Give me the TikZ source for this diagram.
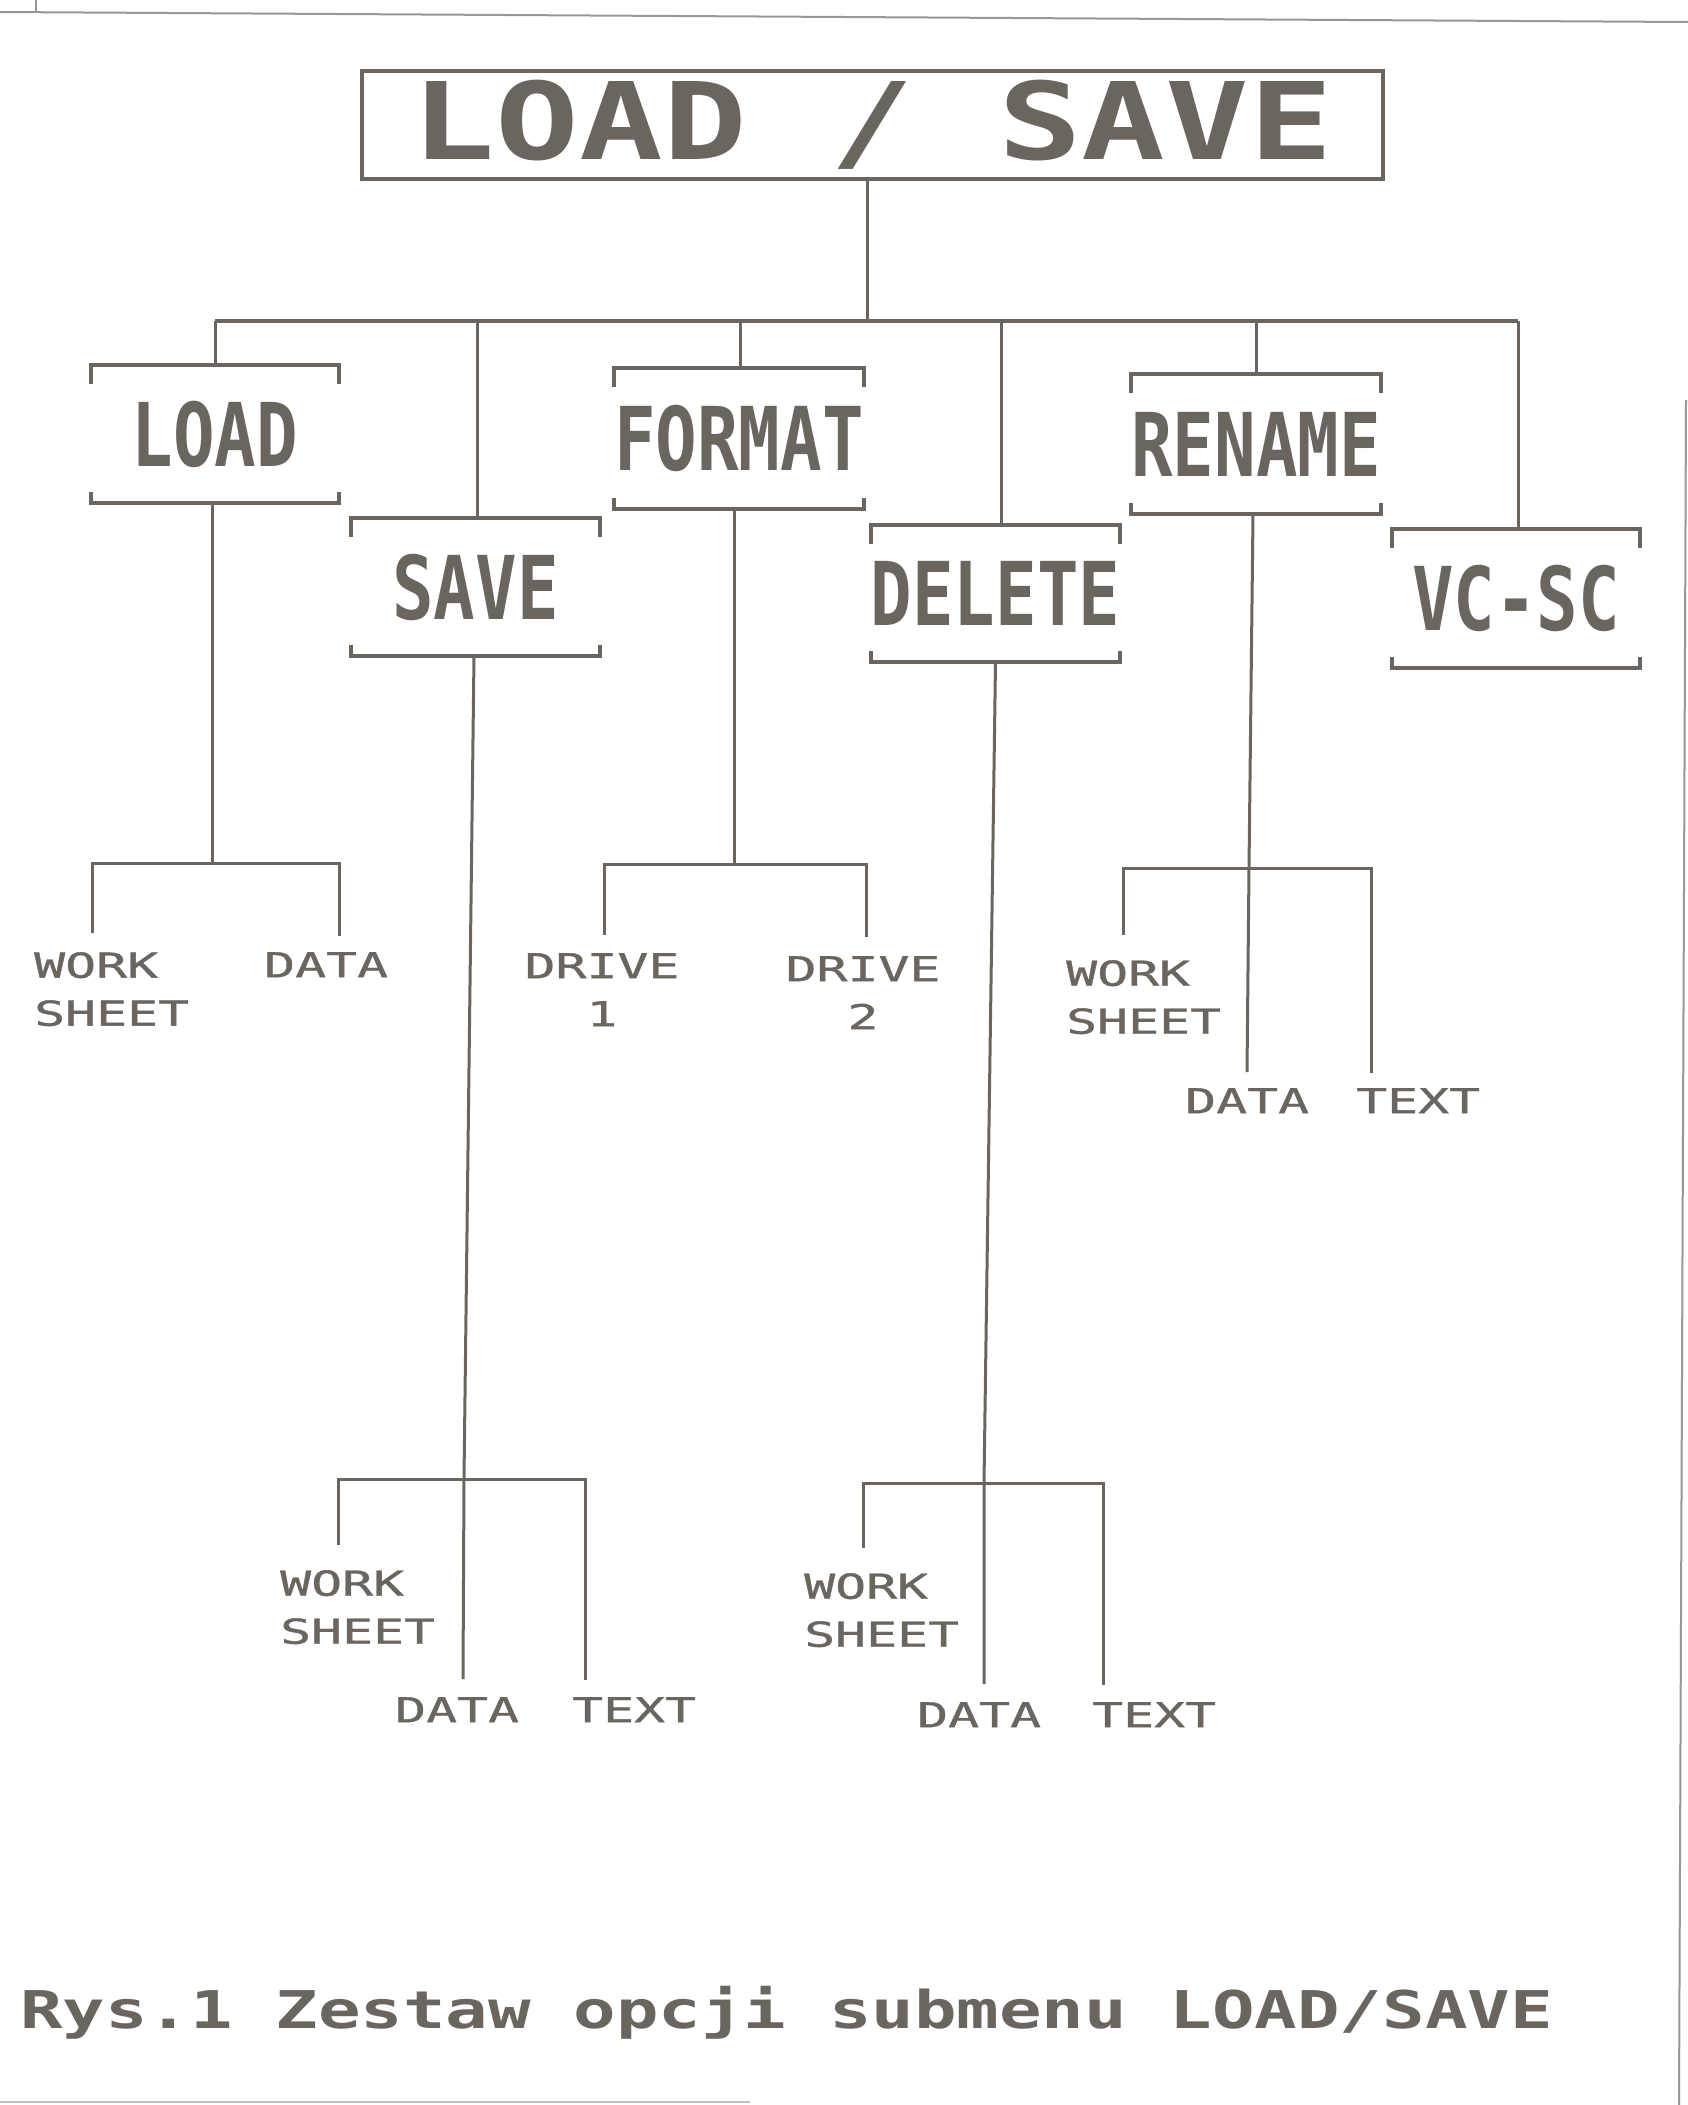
\documentclass[tikz,border=0pt]{standalone}
\usepackage{fontspec}
\usepackage{graphicx}
\newfontfamily\titlefnt{DejaVu Sans Mono}[FakeStretch=1.3]
\newfontfamily\menufnt{DejaVu Sans Mono}[FakeStretch=0.785]
\newfontfamily\labelfnt{DejaVu Sans Mono}[FakeStretch=1.5,FakeBold=1]
\newfontfamily\capfnt{DejaVu Sans Mono}[FakeStretch=1.36]
\definecolor{inkc}{RGB}{107,101,96}
\definecolor{edgec}{RGB}{155,150,150}
\newcommand\drawbrackets[1]{%
  \draw[brline] ([yshift=-19pt]#1.north west) -- (#1.north west) -- (#1.north east) -- ([yshift=-19pt]#1.north east);
  \draw[brline] ([yshift=11pt]#1.south west) -- (#1.south west) -- (#1.south east) -- ([yshift=11pt]#1.south east);}
\begin{document}
\begin{tikzpicture}[x=1pt,y=1pt,
  conn/.style={draw=inkc, line width=3pt},
  busline/.style={draw=inkc, line width=4pt},
  brline/.style={draw=inkc, line width=4pt},
  edge/.style={draw=edgec, line width=2pt},
  titlebox/.style={draw=inkc, line width=4.5pt, inner sep=0pt, text=inkc,
    font=\titlefnt\bfseries\fontsize{107}{110}\selectfont},
  menubox/.style={inner sep=0pt, text=inkc,
    font=\menufnt\bfseries\fontsize{88}{90}\selectfont},
  lbl/.style={inner sep=0pt, text=inkc, align=left, anchor=north west,
    font=\labelfnt\fontsize{34.3}{48}\selectfont},
  clbl/.style={lbl, align=center, anchor=north},
  captext/.style={inner sep=0pt, text=inkc, anchor=base west,
    font=\capfnt\bfseries\fontsize{52}{54}\selectfont}]
\useasboundingbox (0,0) rectangle (1688,-2105);
\fill[white] (0,0) rectangle (1688,-2105);

% scan edges
\coordinate (e1) at (0,-12);
\coordinate (e2) at (1688,-22);
\coordinate (e3) at (36,0);
\coordinate (e4) at (1686,-400);
\coordinate (e5) at (1679,-2105);
\coordinate (e6) at (0,-2102);
\coordinate (e7) at (750,-2102);
\draw[edge] (e1) -- (e2);
\draw[edge] (e3) -- (e3 |- e1);
\draw[edge] (e4) -- (e5);
\draw[edge, draw=edgec!60] (e6) -- (e7);

% title
\node[titlebox, minimum width=1021pt, minimum height=108pt] (title) at (872.5,-125) {LOAD / SAVE};

% level-1 nodes
\node[menubox, minimum width=248pt, minimum height=138pt] (load)   at (215,-434)    {LOAD};
\node[menubox, minimum width=249pt, minimum height=138pt] (save)   at (475.5,-587)  {SAVE};
\node[menubox, minimum width=246pt, minimum height=141pt] (format) at (739,-438.5)  {FORMAT};
\node[menubox, minimum width=243pt, minimum height=137pt] (delete) at (995.5,-593.5){DELETE};
\node[menubox, minimum width=246pt, minimum height=140pt] (rename) at (1256,-444)   {RENAME};
\node[menubox, minimum width=248pt, minimum height=139pt] (vcsc)   at (1516,-598.5) {VC-SC};
\drawbrackets{load}
\drawbrackets{save}
\drawbrackets{format}
\drawbrackets{delete}
\drawbrackets{rename}
\drawbrackets{vcsc}

% level-1 bus
\coordinate (b0) at (867,-321);
\coordinate (bl1) at (215,-321);
\coordinate (bl2) at (477,-321);
\coordinate (bl3) at (740,-321);
\coordinate (bl4) at (1001,-321);
\coordinate (bl5) at (1256,-321);
\coordinate (bl6) at (1518,-321);
\draw[conn] (title.south -| b0) -- (b0);
\draw[busline] (bl1) -- (bl6);
\draw[conn] (bl1) -- (bl1 |- load.north);
\draw[conn] (bl2) -- (bl2 |- save.north);
\draw[conn] (bl3) -- (bl3 |- format.north);
\draw[conn] (bl4) -- (bl4 |- delete.north);
\draw[conn] (bl5) -- (bl5 |- rename.north);
\draw[conn] (bl6) -- (bl6 |- vcsc.north);

% LOAD subtree
\coordinate (lb) at (212,-863);
\coordinate (lw) at (92,-933);
\coordinate (ld) at (339,-936);
\draw[conn] (load.south -| lb) -- (lb);
\draw[conn] (lw) -- (lw |- lb) -- (ld |- lb) -- (ld);
\node[lbl] (lws) at (34,-952) {WORK\\SHEET};
\node[lbl] (lda) at (264,-952) {DATA};

% FORMAT subtree
\coordinate (fb) at (734,-864);
\coordinate (fl) at (604,-935);
\coordinate (fr) at (866,-937);
\draw[conn] (format.south -| fb) -- (fb);
\draw[conn] (fl) -- (fl |- fb) -- (fr |- fb) -- (fr);
\node[clbl] (fd1) at (602,-953) {DRIVE\\1};
\node[clbl] (fd2) at (863,-956) {DRIVE\\2};

% SAVE subtree
\coordinate (sb) at (464,-1479);
\coordinate (sd) at (463,-1679);
\coordinate (sl) at (338,-1545);
\coordinate (sr) at (585,-1680);
\draw[conn] ([xshift=-1.5pt]save.south) -- (sb) -- (sd);
\draw[conn] (sl) -- (sl |- sb) -- (sr |- sb) -- (sr);
\node[lbl] (sws) at (280,-1570) {WORK\\SHEET};
\node[lbl] (sda) at (395,-1697) {DATA};
\node[lbl] (ste) at (572,-1697) {TEXT};

% DELETE subtree
\coordinate (db) at (984,-1483);
\coordinate (dd) at (984,-1684);
\coordinate (dl) at (863,-1548);
\coordinate (dr) at (1103,-1685);
\draw[conn] (delete.south) -- (db) -- (dd);
\draw[conn] (dl) -- (dl |- db) -- (dr |- db) -- (dr);
\node[lbl] (dws) at (804,-1573) {WORK\\SHEET};
\node[lbl] (dda) at (917,-1702) {DATA};
\node[lbl] (dte) at (1092,-1702) {TEXT};

% RENAME subtree
\coordinate (rb) at (1249,-868);
\coordinate (rd) at (1247,-1072);
\coordinate (rl) at (1123,-935);
\coordinate (rr) at (1371,-1073);
\draw[conn] ([xshift=-3pt]rename.south) -- (rb) -- (rd);
\draw[conn] (rl) -- (rl |- rb) -- (rr |- rb) -- (rr);
\node[lbl] (rws) at (1066,-960) {WORK\\SHEET};
\node[lbl] (rda) at (1185,-1088) {DATA};
\node[lbl] (rte) at (1356,-1088) {TEXT};

% caption
\node[captext] (cap) at (20,-2028) {Rys.1 Zestaw opcji submenu LOAD/SAVE};
\end{tikzpicture}
\end{document}
